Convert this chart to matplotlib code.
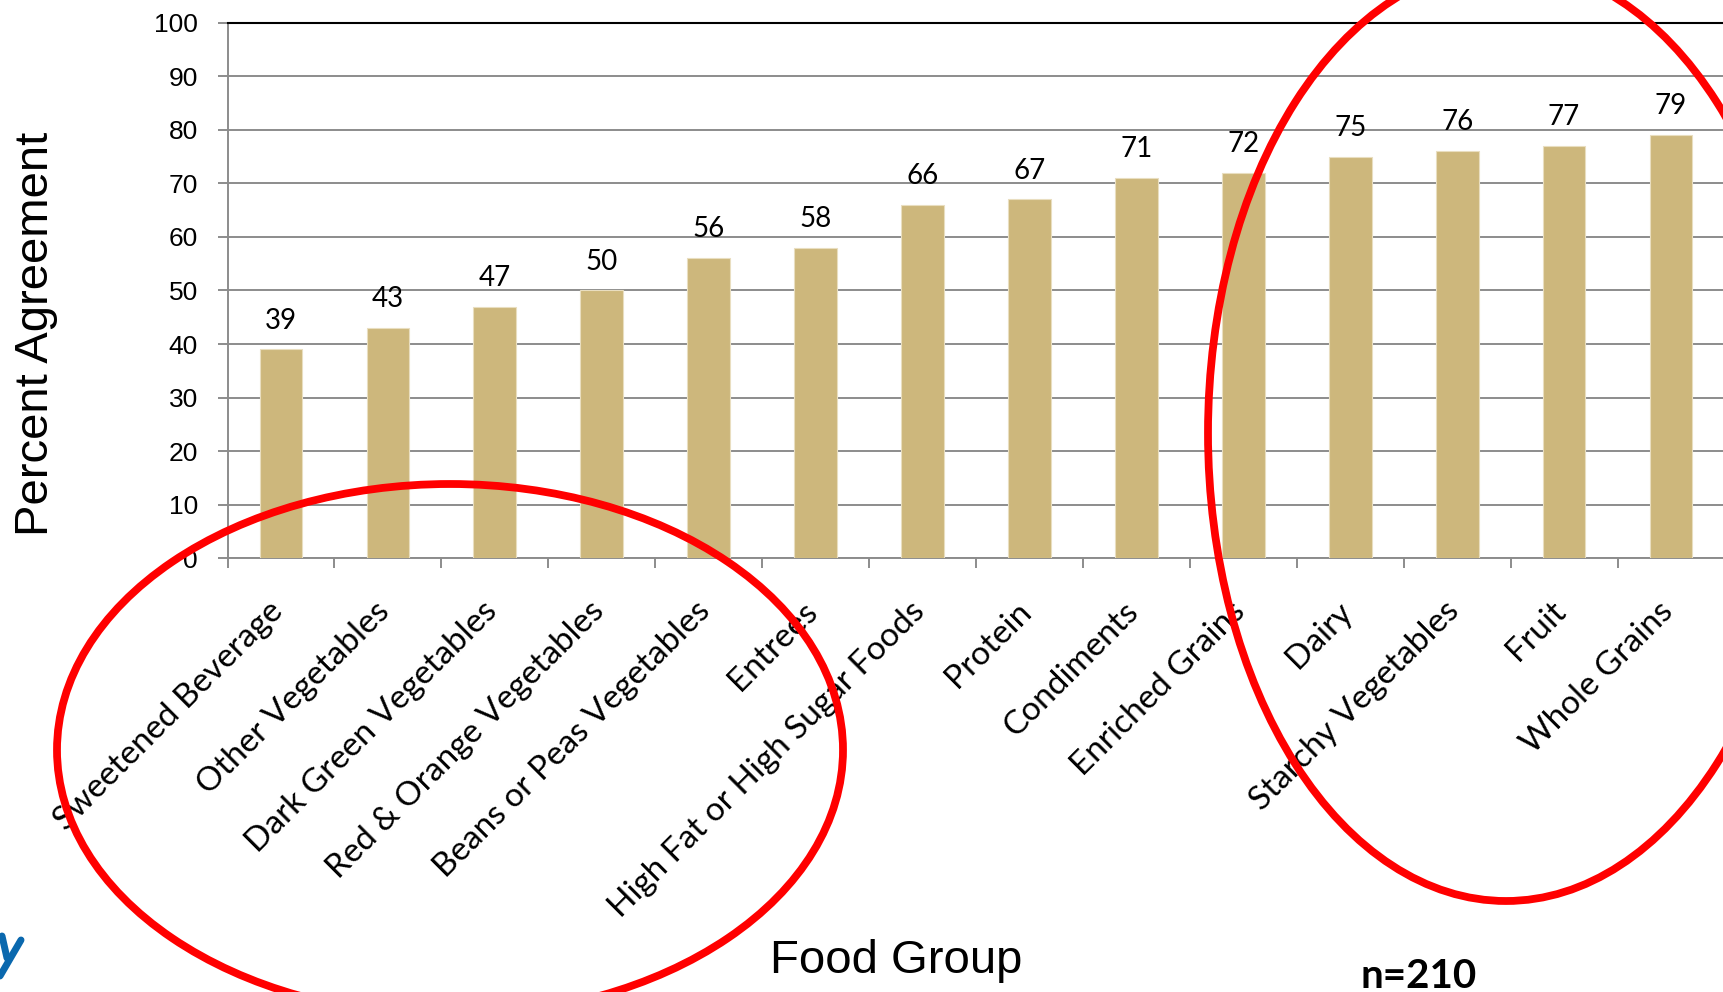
import matplotlib
matplotlib.use("Agg")
import matplotlib.pyplot as plt
from matplotlib.patches import Ellipse
from matplotlib.lines import Line2D
import numpy as np

# Food groups and percent agreement (n=210)
categories = ['Sweetened Beverage', 'Other Vegetables', 'Dark Green Vegetables',
              'Red & Orange Vegetables', 'Beans or Peas Vegetables', 'Entrees',
              'High Fat or High Sugar Foods', 'Protein', 'Condiments',
              'Enriched Grains', 'Dairy', 'Starchy Vegetables', 'Fruit',
              'Whole Grains']
values = [39, 43, 47, 50, 56, 58, 66, 67, 71, 72, 75, 76, 77, 79]
yticks = list(range(0, 101, 10))

W, H = 1723, 992


def px(x, y):
    # pixel position (from top-left) -> figure fraction
    return x / W, 1 - y / H


fig = plt.figure(figsize=(W / 100, H / 100), dpi=100)
ax = fig.add_axes([227.5 / W, 1 - 558.2 / H, (1724.5 - 227.5) / W, 535.5 / H])

x = np.arange(len(categories))
bars = ax.bar(x, values, width=0.4, color='#CDB77C', edgecolor='#E9DEC0',
              linewidth=0.8, zorder=3)

for xi, v in zip(x, values):
    ax.annotate(str(v), xy=(xi, v), xytext=(0, 15), textcoords='offset points',
                ha='center', va='baseline', fontsize=20, family='Lato')

ax.set_xlim(-0.5, len(categories) - 0.5)
ax.set_ylim(0, 100)
ax.set_yticks(yticks)
ax.set_yticklabels([str(t) for t in yticks], fontsize=19, family='Liberation Sans')
ax.tick_params(axis='y', length=7.2, width=1.4, color='#8C8C8C', pad=14)
ax.yaxis.grid(True, color='#8C8C8C', linewidth=1.4, zorder=0)
ax.set_axisbelow(True)

# category boundaries carry the tick marks, labels are placed by hand
ax.set_xticks(np.arange(-0.5, len(categories), 1.0))
ax.set_xticklabels([])
ax.tick_params(axis='x', length=7.2, width=1.4, color='#8C8C8C')
for xi, name in zip(x, categories):
    ax.annotate(name, xy=(xi, 0), xytext=(-2, -35), textcoords='offset points',
                rotation=45, rotation_mode='anchor', ha='right', va='center',
                fontsize=24, family='Lato', annotation_clip=False)

for side in ['left', 'bottom']:
    ax.spines[side].set_color('#8C8C8C')
    ax.spines[side].set_linewidth(1.4)
ax.spines['top'].set_color('black')
ax.spines['top'].set_linewidth(1.5)
ax.spines['right'].set_visible(False)

fig.text(*px(36, 334), 'Percent Agreement', rotation=90, ha='center', va='center',
         fontsize=34, family='Liberation Sans')
fig.text(*px(896, 973), 'Food Group', ha='center', va='baseline',
         fontsize=34, family='Liberation Sans')
fig.text(*px(1419, 988), 'n=210', ha='center', va='baseline',
         fontsize=29, family='Lato', fontweight='bold')

# red hand-drawn highlight rings
for cx, cy, w, h in [(450, 750, 786, 532), (1506, 433, 596, 936)]:
    e = Ellipse(px(cx, cy), w / W, h / H, transform=fig.transFigure,
                fill=False, edgecolor='#FF0000', linewidth=5.6, zorder=10)
    fig.add_artist(e)

# piece of the blue logo at the lower-left edge
for (x0, y0), (x1, y1) in [((21, 940), (0, 976)), ((2, 936), (7, 958))]:
    fig.add_artist(Line2D([x0 / W, x1 / W], [1 - y0 / H, 1 - y1 / H],
                          transform=fig.transFigure, color='#0A68AE',
                          linewidth=5, solid_capstyle='round'))

fig.savefig('out.png', dpi=100)
